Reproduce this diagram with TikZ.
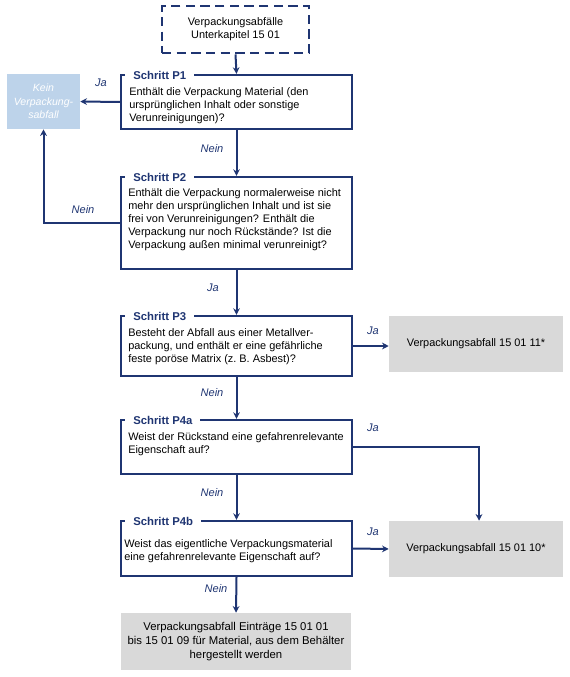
\documentclass[tikz,border=0pt]{standalone}
\usepackage{fontspec}
\setmainfont{Liberation Sans}
\usetikzlibrary{arrows.meta}
\definecolor{navy}{HTML}{1F3572}
\definecolor{keinblue}{HTML}{BDD3EA}
\definecolor{grayfill}{HTML}{D9D9D9}
\begin{document}
\begin{tikzpicture}[x=0.75pt,y=-0.75pt,
  every node/.style={font=\fontsize{8.2}{9.75}\selectfont},
  stepbox/.style={draw=navy,line width=1.6pt,fill=white,minimum width=231*0.75pt,inner sep=0pt},
  steptext/.style={anchor=north west,align=left,inner sep=0pt},
  steptitle/.style={fill=white,text=navy,font=\fontsize{8.5}{10}\selectfont\bfseries,inner xsep=6pt,inner ysep=1pt,anchor=west},
  resbox/.style={fill=grayfill,minimum width=174*0.75pt,align=center,inner sep=0pt},
  lbl/.style={text=navy,font=\fontsize{8.3}{10}\selectfont\itshape},
  conn/.style={draw=navy,line width=1.5pt,-{Stealth[length=5pt,width=5pt]}}]
\useasboundingbox (0,0) rectangle (570,677);
% start
\node[draw=navy,line width=2.2pt,dash pattern=on 7pt off 4pt,minimum width=147*0.75pt,minimum height=47*0.75pt,align=center,inner sep=0pt] (start) at (235.5,29.5) {Verpackungsabfälle\\Unterkapitel 15 01};
% kein
\node[fill=keinblue,minimum width=73*0.75pt,minimum height=55*0.75pt,align=center,inner sep=0pt,text=white,font=\fontsize{7.9}{10.2}\selectfont\itshape] (kein) at (43.5,101.5) {Kein\\Verpackung-\\sabfall};
% steps
\node[stepbox,minimum height=54*0.75pt] (p1) at (236.5,102) {};
\node[steptitle] (t1) at (125,75) {Schritt P1};
\node[steptext] (x1) at (129,87) {Enthält die Verpackung Material (den\\ursprünglichen Inhalt oder sonstige\\Verunreinigungen)?};
\node[stepbox,minimum height=92*0.75pt] (p2) at (236.5,223) {};
\node[steptitle] (t2) at (125,177) {Schritt P2};
\node[steptext] (x2) at (128,188) {Enthält die Verpackung normalerweise nicht\\mehr den ursprünglichen Inhalt und ist sie\\frei von Verunreinigungen? Enthält die\\Verpackung nur noch Rückstände? Ist die\\Verpackung außen minimal verunreinigt?};
\node[stepbox,minimum height=60*0.75pt] (p3) at (236.5,346) {};
\node[steptitle] (t3) at (125,316) {Schritt P3};
\node[steptext] (x3) at (128,328) {Besteht der Abfall aus einer Metallver-\\packung, und enthält er eine gefährliche\\feste poröse Matrix (z.\ B. Asbest)?};
\node[stepbox,minimum height=54*0.75pt] (p4a) at (236.5,447) {};
\node[steptitle] (t4a) at (125,420) {Schritt P4a};
\node[steptext] (x4a) at (128,432) {Weist der Rückstand eine gefahrenrelevante\\Eigenschaft auf?};
\node[stepbox,minimum height=55*0.75pt] (p4b) at (236.5,548.5) {};
\node[steptitle] (t4b) at (125,521) {Schritt P4b};
\node[steptext] (x4b) at (124,539) {Weist das eigentliche Verpackungsmaterial\\eine gefahrenrelevante Eigenschaft auf?};
% results
\node[resbox,minimum height=56*0.75pt] (g1) at (476,344) {Verpackungsabfall 15 01 11*};
\node[resbox,minimum height=56*0.75pt] (g2) at (476,549) {Verpackungsabfall 15 01 10*};
\node[resbox,minimum width=230*0.75pt,minimum height=57*0.75pt,font=\fontsize{8.5}{10.5}\selectfont] (g3) at (236,641.5) {Verpackungsabfall Einträge 15 01 01\\bis 15 01 09 für Material, aus dem Behälter\\hergestellt werden};
% connectors
\draw[conn] (start.south) -- (p1.north);
\draw[conn] (p1.west) -- (kein.east);
\draw[conn] (p1.south) -- (p2.north);
\draw[conn] (p2.west) -| (kein.south);
\draw[conn] (p2.south) -- (p3.north);
\draw[conn] (p3.east) -- (p3.east -| g1.west);
\draw[conn] (p3.south) -- (p4a.north);
\draw[conn] (p4a.east) -| ([xshift=3*0.75pt]g2.north);
\draw[conn] (p4a.south) -- (p4b.north);
\draw[conn] (p4b.east) -- (g2.west);
\draw[conn] (p4b.south) -- (g3.north);
% labels
\node[lbl] (l1) at (101,83) {Ja};
\node[lbl] (l2) at (212,149) {Nein};
\node[lbl] (l3) at (83,210) {Nein};
\node[lbl] (l4) at (213,288) {Ja};
\node[lbl] (l5) at (373,331) {Ja};
\node[lbl] (l6) at (212,393) {Nein};
\node[lbl] (l7) at (373,428) {Ja};
\node[lbl] (l8) at (212,493) {Nein};
\node[lbl] (l9) at (373,532) {Ja};
\node[lbl] (l10) at (216,589) {Nein};
\end{tikzpicture}
\end{document}
